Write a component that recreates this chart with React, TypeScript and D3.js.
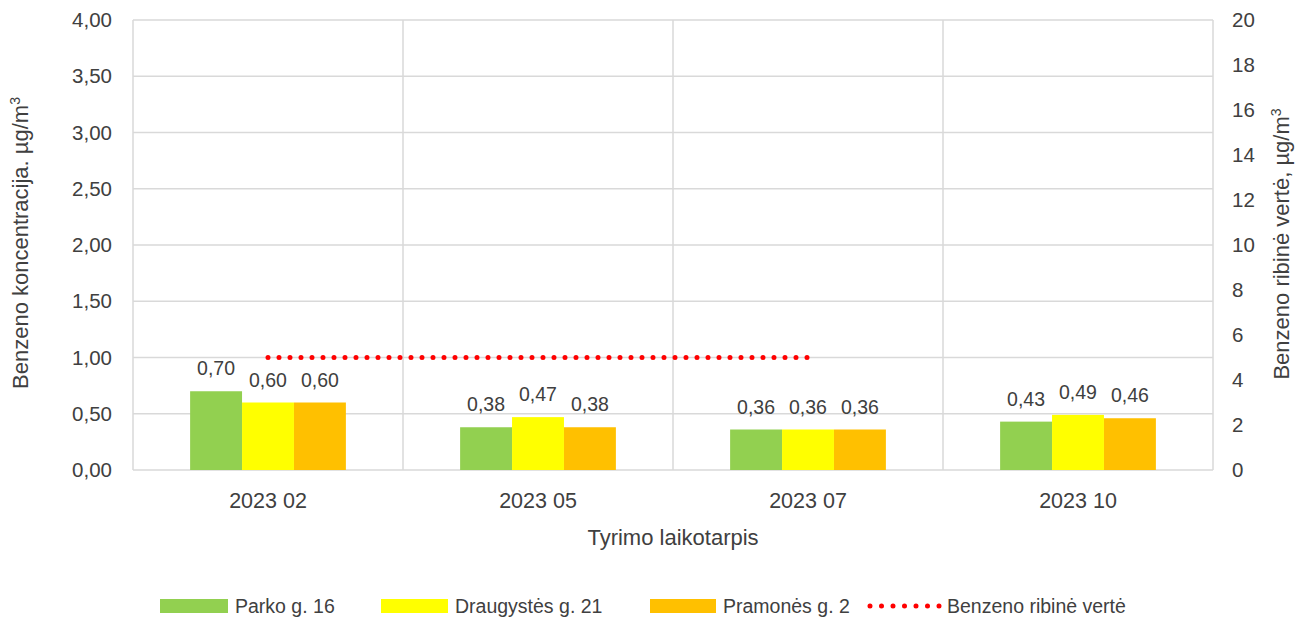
import { useEffect, useRef } from 'react';
import * as d3 from 'd3';

const categories = ['2023 02', '2023 05', '2023 07', '2023 10'];
const seriesNames = ['Parko g. 16', 'Draugystės g. 21', 'Pramonės g. 2'];
const parko = [0.7, 0.38, 0.36, 0.43];
const draugystes = [0.6, 0.47, 0.36, 0.49];
const pramones = [0.6, 0.38, 0.36, 0.46];
const limitName = 'Benzeno ribinė vertė';
const limitValues: (number | null)[] = [5, 5, 5, null];
const leftTicks = [0, 0.5, 1, 1.5, 2, 2.5, 3, 3.5, 4];
const rightTicks = [0, 2, 4, 6, 8, 10, 12, 14, 16, 18, 20];

const colors = {
  green: '#92D050',
  yellow: '#FFFF00',
  orange: '#FFC000',
  red: '#FF0000',
  grid: '#D9D9D9',
  text: '#404040',
};

const FONT = '"Liberation Sans", Arial, sans-serif';

export default function App() {
  const ref = useRef<SVGSVGElement>(null);

  useEffect(() => {
    const svg = d3.select(ref.current);
    svg.selectAll('*').remove();

    const left = 133;
    const right = 1213;
    const top = 20;
    const bottom = 470;
    const seriesValues = [parko, draugystes, pramones];
    const seriesColors = [colors.green, colors.yellow, colors.orange];

    const x = d3.scaleBand().domain(categories).range([left, right]).paddingInner(0).paddingOuter(0);
    const x1 = d3
      .scaleBand()
      .domain(seriesNames)
      .range([0, x.bandwidth()])
      .paddingOuter(1.1)
      .paddingInner(0);
    const y = d3.scaleLinear().domain([0, 4]).range([bottom, top]);
    const yR = d3.scaleLinear().domain([0, 20]).range([bottom, top]);

    const textStyle = (sel: any, size = 20) =>
      sel.style('font-family', FONT).style('font-size', `${size}px`).attr('fill', colors.text);

    // grid
    const grid = svg.append('g');
    grid
      .selectAll('line.h')
      .data(leftTicks)
      .enter()
      .append('line')
      .attr('x1', left)
      .attr('x2', right)
      .attr('y1', d => y(d))
      .attr('y2', d => y(d))
      .attr('stroke', colors.grid)
      .attr('stroke-width', 1.5);
    const bounds = categories.map(c => x(c)!).concat([right]);
    grid
      .selectAll('line.v')
      .data(bounds)
      .enter()
      .append('line')
      .attr('x1', d => d)
      .attr('x2', d => d)
      .attr('y1', top)
      .attr('y2', bottom)
      .attr('stroke', colors.grid)
      .attr('stroke-width', 1.5);

    // bars
    seriesValues.forEach((vals, si) => {
      const g = svg.append('g');
      g.selectAll('rect')
        .data(vals)
        .enter()
        .append('rect')
        .attr('x', (d, i) => x(categories[i])! + x1(seriesNames[si])!)
        .attr('width', x1.bandwidth())
        .attr('y', d => y(d))
        .attr('height', d => y(0) - y(d))
        .attr('fill', seriesColors[si]);
      textStyle(
        g
          .selectAll('text')
          .data(vals)
          .enter()
          .append('text')
          .attr('x', (d, i) => x(categories[i])! + x1(seriesNames[si])! + x1.bandwidth() / 2)
          .attr('y', d => y(d) - 16)
          .attr('text-anchor', 'middle')
          .text(d => d3.format('.2f')(d).replace('.', ',')),
        19.5
      );
    });

    // limit line
    const line = d3
      .line<number | null>()
      .defined(d => d !== null)
      .x((d, i) => x(categories[i])! + x.bandwidth() / 2)
      .y(d => yR(d as number));
    svg
      .append('path')
      .datum(limitValues)
      .attr('d', line)
      .attr('fill', 'none')
      .attr('stroke', colors.red)
      .attr('stroke-width', 5)
      .attr('stroke-linecap', 'round')
      .attr('stroke-dasharray', '0 11');

    // axes
    const yAxis = svg
      .append('g')
      .attr('transform', `translate(${left},0)`)
      .call(
        d3
          .axisLeft(y)
          .tickValues(leftTicks)
          .tickSize(0)
          .tickPadding(21)
          .tickFormat(d => d3.format('.2f')(d as number).replace('.', ','))
      );
    yAxis.select('.domain').remove();
    textStyle(yAxis.selectAll('text'), 20.5);

    const yAxisR = svg
      .append('g')
      .attr('transform', `translate(${right},0)`)
      .call(d3.axisRight(yR).tickValues(rightTicks).tickSize(0).tickPadding(19));
    yAxisR.select('.domain').remove();
    textStyle(yAxisR.selectAll('text'), 20.5);

    const xAxis = svg
      .append('g')
      .attr('transform', `translate(0,${bottom})`)
      .call(d3.axisBottom(x).tickSize(0).tickPadding(23));
    xAxis.select('.domain').remove();
    textStyle(xAxis.selectAll('text'), 21.5);

    // titles
    const leftTitle = svg
      .append('text')
      .attr('transform', `translate(28,243) rotate(-90)`)
      .attr('text-anchor', 'middle');
    textStyle(leftTitle, 22);
    leftTitle.append('tspan').text('Benzeno koncentracija. µg/m');
    leftTitle.append('tspan').attr('dy', -8).style('font-size', '14px').text('3');

    const rightTitle = svg
      .append('text')
      .attr('transform', `translate(1289,244) rotate(-90)`)
      .attr('text-anchor', 'middle');
    textStyle(rightTitle, 22);
    rightTitle.append('tspan').text('Benzeno ribinė vertė,  µg/m');
    rightTitle.append('tspan').attr('dy', -8).style('font-size', '14px').text('3');

    textStyle(
      svg
        .append('text')
        .attr('x', (left + right) / 2)
        .attr('y', 545)
        .attr('text-anchor', 'middle')
        .text('Tyrimo laikotarpis'),
      22
    );

    // legend
    const legendData = [
      { label: seriesNames[0], color: colors.green, x: 160, w: 68, type: 'rect' },
      { label: seriesNames[1], color: colors.yellow, x: 381, w: 67, type: 'rect' },
      { label: seriesNames[2], color: colors.orange, x: 650, w: 66, type: 'rect' },
      { label: limitName, color: colors.red, x: 870, w: 70, type: 'line' },
    ];
    const legend = svg.append('g').attr('transform', 'translate(0,606)');
    const item = legend
      .selectAll('g')
      .data(legendData)
      .enter()
      .append('g')
      .attr('transform', d => `translate(${d.x},0)`);
    item
      .filter(d => d.type === 'rect')
      .append('rect')
      .attr('y', -7)
      .attr('width', d => d.w)
      .attr('height', 14)
      .attr('fill', d => d.color);
    item
      .filter(d => d.type === 'line')
      .append('line')
      .attr('x1', 0)
      .attr('x2', d => d.w)
      .attr('stroke', d => d.color)
      .attr('stroke-width', 5)
      .attr('stroke-linecap', 'round')
      .attr('stroke-dasharray', '0 11.5');
    textStyle(
      item
        .append('text')
        .attr('x', d => d.w + 7)
        .attr('y', 7)
        .text(d => d.label),
      19.5
    );
  }, []);

  return (
    <svg
      ref={ref}
      width={1306}
      height={618}
      style={{ position: 'absolute', left: 0, top: 0, background: '#fff' }}
    />
  );
}
